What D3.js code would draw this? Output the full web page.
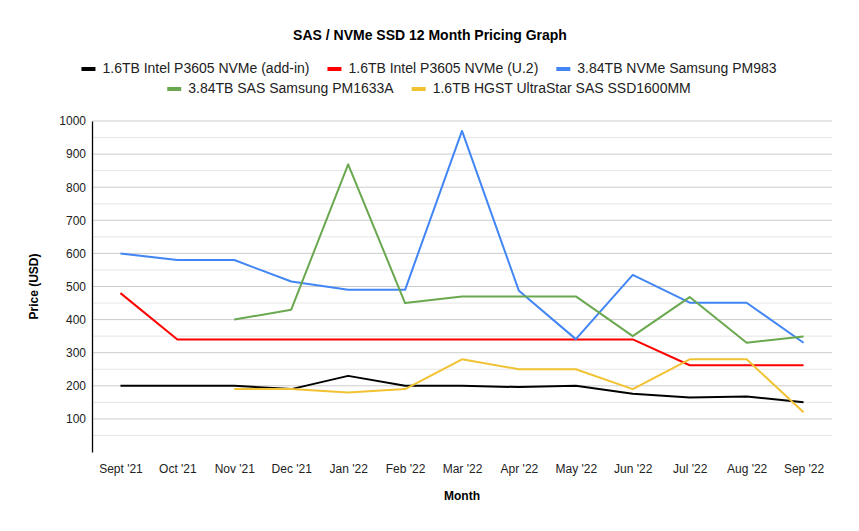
<!DOCTYPE html>
<html>
<head>
<meta charset="utf-8">
<script src="https://cdn.jsdelivr.net/npm/d3@7"></script>
<style>
  body { margin: 0; background: #fff; }
  text { font-family: "Liberation Sans", Arial, sans-serif; }
</style>
</head>
<body>
<script>
// chart data
const months = ["Sept '21", "Oct '21", "Nov '21", "Dec '21", "Jan '22", "Feb '22", "Mar '22",
  "Apr '22", "May '22", "Jun '22", "Jul '22", "Aug '22", "Sep '22"]
const seriesNames = ["1.6TB Intel P3605 NVMe (add-in)", "1.6TB Intel P3605 NVMe (U.2)",
  "3.84TB NVMe Samsung PM983", "3.84TB SAS Samsung PM1633A", "1.6TB HGST UltraStar SAS SSD1600MM"]
const addIn = [200, 200, 200, 190, 230, 200, 200, 196, 200, 176, 165, 168, 150]
const u2 = [480, 340, 340, 340, 340, 340, 340, 340, 340, 340, 262, 262, 262]
const pm983 = [600, 580, 580, 515, 490, 490, 970, 487, 341, 535, 451, 451, 330]
const pm1633a = [null, null, 400, 430, 869, 450, 470, 470, 470, 350, 468, 330, 349]
const hgst = [null, null, 190, 190, 180, 190, 280, 250, 250, 190, 280, 280, 120]
const yTicks = [100, 200, 300, 400, 500, 600, 700, 800, 900, 1000]

const colors = ["#000000", "#ff0000", "#4285f4", "#6aa84f", "#f1c232"]
const allSeries = [addIn, u2, pm983, pm1633a, hgst]

const width = 859, height = 531
const plotL = 92, plotR = 832, plotT = 121, plotB = 452

const svg = d3.select("body").append("svg")
    .attr("width", width)
    .attr("height", height)

const x = d3.scalePoint()
    .domain(months)
    .range([plotL, plotR])
    .padding(0.5)

const y = d3.scaleLinear()
    .domain([0, 1000])
    .range([plotB, plotT])

// minor grid
svg.append("g")
    .selectAll("line")
    .data(d3.range(50, 1000, 100))
    .enter().append("line")
    .attr("x1", plotL).attr("x2", plotR)
    .attr("y1", d => y(d)).attr("y2", d => y(d))
    .attr("stroke", "#e6e6e6")

// major grid
svg.append("g")
    .selectAll("line")
    .data(yTicks)
    .enter().append("line")
    .attr("x1", plotL).attr("x2", plotR)
    .attr("y1", d => y(d)).attr("y2", d => y(d))
    .attr("stroke", "#cccccc")

// y axis
const yAxis = svg.append("g")
    .attr("transform", `translate(${plotL},0)`)
    .call(d3.axisLeft(y).tickValues(yTicks).tickFormat(d3.format("d")).tickSize(0).tickPadding(6))
yAxis.select(".domain").attr("stroke", "#000").attr("stroke-width", 1.3)
yAxis.selectAll("text").attr("font-size", 12).attr("fill", "#222")
    .style("font-family", "'Liberation Sans', Arial, sans-serif")

// x axis labels
const xAxis = svg.append("g")
    .attr("transform", `translate(0,${plotB})`)
    .call(d3.axisBottom(x).tickSize(0).tickPadding(12))
xAxis.select(".domain").remove()
xAxis.selectAll("text").attr("font-size", 12).attr("fill", "#222")
    .style("font-family", "'Liberation Sans', Arial, sans-serif")

// lines
const line = d3.line()
    .defined(d => d != null)
    .x((d, i) => x(months[i]))
    .y(d => y(d))

svg.append("g")
    .selectAll("path")
    .data(allSeries)
    .enter().append("path")
    .attr("d", d => line(d))
    .attr("fill", "none")
    .attr("stroke", (d, i) => colors[i])
    .attr("stroke-width", 2)
    .attr("stroke-linejoin", "round")

// title
svg.append("text")
    .attr("x", 430).attr("y", 40)
    .attr("text-anchor", "middle")
    .attr("font-size", 14).attr("font-weight", "bold")
    .text("SAS / NVMe SSD 12 Month Pricing Graph")

// legend
const legendRows = [[0, 1, 2], [3, 4]]
const legendY = [73, 93]
legendRows.forEach((row, r) => {
    const g = svg.append("g")
    let cx = 0
    row.forEach(i => {
        const item = g.append("g").attr("transform", `translate(${cx},0)`)
        item.append("rect")
            .attr("x", 0).attr("y", -6)
            .attr("width", 14).attr("height", 4)
            .attr("fill", colors[i])
        const t = item.append("text")
            .attr("x", 21).attr("y", 0)
            .attr("font-size", 14).attr("fill", "#222")
            .text(seriesNames[i])
        cx += 21 + t.node().getComputedTextLength() + 18
    })
    const w = cx - 18
    g.attr("transform", `translate(${(plotL + plotR) / 2 - w / 2 - 33},${legendY[r]})`)
})

// axis titles
svg.append("text")
    .attr("transform", `translate(38,${(plotT + plotB) / 2}) rotate(-90)`)
    .attr("text-anchor", "middle")
    .attr("font-size", 12).attr("font-weight", "bold")
    .text("Price (USD)")

svg.append("text")
    .attr("x", (plotL + plotR) / 2).attr("y", 500)
    .attr("text-anchor", "middle")
    .attr("font-size", 12).attr("font-weight", "bold")
    .text("Month")
</script>
</body>
</html>
